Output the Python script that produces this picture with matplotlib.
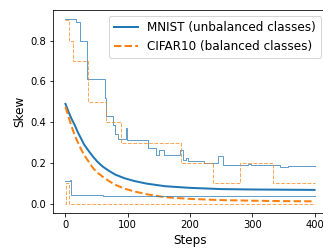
import numpy as np
import matplotlib
matplotlib.use("Agg")
import matplotlib.pyplot as plt

# mean skew (thick lines)
steps_mean = [0, 5, 10, 15, 20, 25, 30, 38, 45, 52, 60, 70, 80, 95, 110, 130, 160, 200, 250, 300, 350, 400]
mnist_mean = [0.49, 0.45, 0.415, 0.385, 0.35, 0.32, 0.29, 0.256, 0.228, 0.204, 0.182, 0.161, 0.143, 0.125,
              0.112, 0.099, 0.086, 0.078, 0.072, 0.070, 0.069, 0.068]
cifar_mean = [0.475, 0.425, 0.378, 0.335, 0.30, 0.268, 0.24, 0.203, 0.172, 0.151, 0.132, 0.111, 0.093, 0.074,
              0.061, 0.047, 0.032, 0.024, 0.018, 0.015, 0.013, 0.012]

# max skew (thin, upper)
mnist_max_x = [0, 17, 23, 34, 35, 63, 65, 76, 79, 84, 92, 97, 99, 132, 146, 151, 159, 184, 188,
               194, 197, 223, 245, 253, 293, 298, 344, 357, 400]
mnist_max_y = [0.905, 0.893, 0.80, 0.70, 0.61, 0.52, 0.43, 0.385, 0.34, 0.32, 0.32, 0.37, 0.312,
               0.272, 0.24, 0.263, 0.24, 0.265, 0.215, 0.222, 0.212, 0.2, 0.232, 0.19, 0.197,
               0.19, 0.179, 0.185, 0.185]
cifar_max_x = [0, 6, 12, 36, 65, 89, 186, 237, 280, 334, 400]
cifar_max_y = [0.9, 0.8, 0.7, 0.5, 0.4, 0.3, 0.2, 0.1, 0.2, 0.1, 0.1]

# min skew (thin, lower)
mnist_min_x = [0, 7, 9, 20, 60, 150, 400]
mnist_min_y = [0.112, 0.118, 0.045, 0.041, 0.039, 0.037, 0.037]
cifar_min_x = [0, 1, 6, 400]
cifar_min_y = [0.0, 0.1, 0.0, 0.0]

fig = plt.figure(figsize=(323 / 72, 249 / 72), dpi=72)
ax = fig.add_axes([0.1641, 0.1446, 0.8483, 0.8153])

ax.plot(steps_mean, mnist_mean, color="C0", lw=2, label="MNIST (unbalanced classes)")
ax.plot(steps_mean, cifar_mean, color="C1", lw=2, ls="--", label="CIFAR10 (balanced classes)")
ax.plot(mnist_max_x, mnist_max_y, color="C0", lw=1, alpha=0.7, drawstyle="steps-post")
ax.plot(mnist_min_x, mnist_min_y, color="C0", lw=1, alpha=0.7, drawstyle="steps-post")
ax.plot(cifar_max_x, cifar_max_y, color="C1", lw=1, ls="--", alpha=0.7, drawstyle="steps-post")
ax.plot(cifar_min_x, cifar_min_y, color="C1", lw=1, ls="--", alpha=0.7, drawstyle="steps-post")

ax.set_xticks([0, 100, 200, 300, 400])
ax.set_yticks([0.0, 0.2, 0.4, 0.6, 0.8])
ax.tick_params(labelsize=10)
ax.set_xlabel("Steps", fontsize=12)
ax.set_ylabel("Skew", fontsize=12)
ax.legend(loc="upper right", fontsize=12)

fig.savefig("out.png", dpi=72)
